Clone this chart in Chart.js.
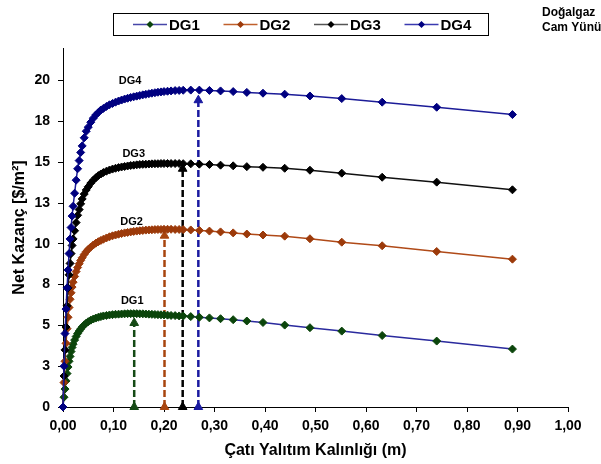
<!DOCTYPE html>
<html>
<head>
<meta charset="utf-8">
<script src="https://cdn.jsdelivr.net/npm/chart.js@4"></script>
<style>
  body { margin: 0; background: #fff; }
</style>
</head>
<body>
<canvas id="gainChart" width="601" height="464"></canvas>
<script>
// data
const seriesNames = ['DG1', 'DG2', 'DG3', 'DG4'];

// roof insulation thickness (m)
const thickness = [
  0, 0.002, 0.004, 0.006, 0.008, 0.010, 0.012, 0.014, 0.016, 0.018,
  0.020, 0.023, 0.026, 0.029, 0.032, 0.035, 0.038, 0.042, 0.046, 0.050,
  0.055, 0.060, 0.065, 0.070, 0.075, 0.080, 0.086, 0.092, 0.098, 0.104,
  0.110, 0.116, 0.122, 0.128, 0.134, 0.140, 0.146, 0.152, 0.158, 0.164,
  0.170, 0.176, 0.182, 0.188, 0.194, 0.200, 0.207, 0.214, 0.222, 0.230,
  0.238, 0.253, 0.270, 0.290, 0.312, 0.337, 0.364, 0.396, 0.439, 0.489,
  0.552, 0.632, 0.740, 0.890
];

// net gain ($/m2)
const dg1 = [
  0, 0.6, 1.1, 1.6, 2.05, 2.45, 2.8, 3.1, 3.4, 3.65,
  3.85, 4.1, 4.32, 4.5, 4.65, 4.78, 4.9, 5.03, 5.14, 5.23,
  5.32, 5.39, 5.45, 5.5, 5.54, 5.58, 5.61, 5.64, 5.66, 5.68,
  5.69, 5.7, 5.71, 5.72, 5.72, 5.72, 5.72, 5.71, 5.71, 5.7,
  5.69, 5.68, 5.67, 5.66, 5.65, 5.64, 5.63, 5.61, 5.6, 5.58,
  5.57, 5.54, 5.5, 5.46, 5.41, 5.35, 5.27, 5.18, 5.02, 4.86,
  4.65, 4.38, 4.04, 3.55
];
const dg2 = [
  0, 1.5, 2.8, 3.9, 4.8, 5.5, 6.1, 6.6, 7.0, 7.35,
  7.65, 8.0, 8.3, 8.55, 8.78, 8.98, 9.15, 9.35, 9.52, 9.66,
  9.8, 9.93, 10.04, 10.13, 10.21, 10.28, 10.36, 10.43, 10.49, 10.54,
  10.59, 10.63, 10.67, 10.7, 10.73, 10.76, 10.78, 10.8, 10.82, 10.84,
  10.85, 10.86, 10.87, 10.88, 10.88, 10.89, 10.89, 10.89, 10.88, 10.88,
  10.87, 10.85, 10.82, 10.78, 10.73, 10.67, 10.6, 10.54, 10.47, 10.31,
  10.1, 9.88, 9.53, 9.06
];
const dg3 = [
  0, 1.9, 3.5, 4.9, 6.2, 7.3, 8.1, 8.8, 9.4, 9.9,
  10.3, 10.8, 11.3, 11.75, 12.1, 12.45, 12.75, 13.05, 13.3, 13.5,
  13.72, 13.9, 14.05, 14.18, 14.28, 14.37, 14.45, 14.52, 14.58, 14.63,
  14.67, 14.71, 14.74, 14.77, 14.8, 14.82, 14.84, 14.86, 14.87, 14.88,
  14.89, 14.9, 14.91, 14.91, 14.92, 14.92, 14.92, 14.92, 14.92, 14.92,
  14.91, 14.9, 14.88, 14.86, 14.82, 14.78, 14.73, 14.69, 14.63, 14.51,
  14.33, 14.08, 13.78, 13.31
];
const dg4 = [
  0, 2.5, 4.5, 6.0, 7.3, 8.4, 9.4, 10.3, 11.0, 11.7,
  12.3, 13.1, 13.9, 14.6, 15.1, 15.6, 16.0, 16.5, 16.9, 17.15,
  17.45, 17.7, 17.9, 18.05, 18.2, 18.3, 18.42, 18.52, 18.6, 18.68,
  18.75, 18.81, 18.87, 18.92, 18.97, 19.01, 19.05, 19.09, 19.13, 19.16,
  19.2, 19.23, 19.26, 19.29, 19.31, 19.33, 19.35, 19.37, 19.39, 19.4,
  19.41, 19.42, 19.42, 19.4, 19.37, 19.33, 19.28, 19.23, 19.17, 19.06,
  18.9, 18.68, 18.37, 17.92
];

// optimum thickness arrows
const optThickness = [0.141, 0.201, 0.237, 0.268];
const arrowTop = [5.15, 10.5, 14.6, 18.8];

const xTickValues = [0, 0.1, 0.2, 0.3, 0.4, 0.5, 0.6, 0.7, 0.8, 0.9, 1.0];
const xTickLabels = ['0,00', '0,10', '0,20', '0,30', '0,40', '0,50', '0,60', '0,70', '0,80', '0,90', '1,00'];
const yTickValues = [0, 2.5, 5, 7.5, 10, 12.5, 15, 17.5, 20];
const yTickLabels = ['0', '3', '5', '8', '10', '13', '15', '18', '20'];

// styles
const FONT = "'Liberation Sans', Arial, sans-serif";
const lineColors = ['#2a2a9e', '#b04a18', '#111111', '#1c1c98'];
const markerColors = ['#0b450b', '#9c3a0a', '#000000', '#000080'];
const arrowColors = ['#154a15', '#a8450f', '#000000', '#1a1aa0'];
const legendLineColors = ['#4646a8', '#c0602c', '#555555', '#3a3ab0'];
const labelPos = [[0.137, 6.5], [0.136, 11.35], [0.14, 15.5], [0.133, 19.95]];

Chart.defaults.font.family = FONT;
Chart.defaults.color = '#000';

const allSeries = [dg1, dg2, dg3, dg4];

const curveSets = allSeries.map((vals, i) => ({
  label: seriesNames[i],
  data: thickness.map((x, j) => ({ x: x, y: vals[j] })),
  borderColor: lineColors[i],
  borderWidth: 1.5,
  pointStyle: 'rectRot',
  pointRadius: 4,
  pointBackgroundColor: markerColors[i],
  pointBorderColor: markerColors[i],
  pointBorderWidth: 1,
  tension: 0,
  clip: false,
  order: 4 - i
}));

const arrowSets = optThickness.map((x, i) => ({
  label: seriesNames[i] + ' opt',
  data: [{ x: x, y: 0 }, { x: x, y: arrowTop[i] }],
  borderColor: arrowColors[i],
  borderWidth: 2.5,
  borderDash: [7, 3],
  pointStyle: 'triangle',
  pointRadius: 5,
  pointBackgroundColor: arrowColors[i],
  pointBorderColor: arrowColors[i],
  pointBorderWidth: 1,
  clip: false,
  order: 10
}));

// legend box, curve labels and corner note
const extras = {
  id: 'extras',
  afterDraw(chart) {
    const c = chart.ctx;
    const xs = chart.scales.x, ys = chart.scales.y;
    c.save();
    c.fillStyle = '#000';
    c.textBaseline = 'middle';
    c.textAlign = 'center';
    c.font = 'bold 11px ' + FONT;
    labelPos.forEach((p, i) => {
      c.fillText(seriesNames[i], xs.getPixelForValue(p[0]), ys.getPixelForValue(p[1]));
    });

    // legend
    c.strokeStyle = '#000';
    c.lineWidth = 1;
    c.strokeRect(113.5, 13.5, 375, 22);
    c.font = 'bold 15px ' + FONT;
    c.textAlign = 'left';
    seriesNames.forEach((name, i) => {
      const x0 = 133 + i * 90.5, y0 = 24.5;
      c.strokeStyle = legendLineColors[i];
      c.lineWidth = 1.5;
      c.beginPath();
      c.moveTo(x0, y0);
      c.lineTo(x0 + 34, y0);
      c.stroke();
      c.fillStyle = markerColors[i];
      c.beginPath();
      c.moveTo(x0 + 17, y0 - 3.5);
      c.lineTo(x0 + 20.5, y0);
      c.lineTo(x0 + 17, y0 + 3.5);
      c.lineTo(x0 + 13.5, y0);
      c.closePath();
      c.fill();
      c.fillStyle = '#000';
      c.fillText(name, x0 + 36, y0 + 1);
    });

    c.font = 'bold 12px ' + FONT;
    c.fillText('Doğalgaz', 542, 13);
    c.fillText('Cam Yünü', 542, 28);
    c.restore();
  }
};

new Chart(document.getElementById('gainChart'), {
  type: 'line',
  data: { datasets: arrowSets.concat(curveSets) },
  options: {
    responsive: false,
    animation: false,
    events: [],
    layout: { padding: { top: 48, right: 33, left: 0, bottom: 0 } },
    plugins: { legend: { display: false }, tooltip: { enabled: false } },
    scales: {
      x: {
        type: 'linear',
        min: 0,
        max: 1,
        afterBuildTicks: s => { s.ticks = xTickValues.map(v => ({ value: v })); },
        afterFit: s => { s.height = 57; },
        ticks: {
          autoSkip: false,
          maxRotation: 0,
          padding: 6,
          font: { size: 14, weight: 'bold' },
          callback: (v, i) => xTickLabels[i]
        },
        grid: { drawOnChartArea: false, tickLength: 5, color: '#000' },
        border: { color: '#000', width: 1 },
        title: {
          display: true,
          text: 'Çatı Yalıtım Kalınlığı (m)',
          font: { size: 16, weight: 'bold' },
          padding: { top: 4, bottom: 4 }
        }
      },
      y: {
        min: 0,
        max: 22,
        afterBuildTicks: s => { s.ticks = yTickValues.map(v => ({ value: v })); },
        afterFit: s => { s.width = 63; },
        ticks: {
          autoSkip: false,
          padding: 8,
          font: { size: 14, weight: 'bold' },
          callback: (v, i) => yTickLabels[i]
        },
        grid: { drawOnChartArea: false, tickLength: 5, color: '#000' },
        border: { color: '#000', width: 1 },
        title: {
          display: true,
          text: 'Net Kazanç [$/m²]',
          font: { size: 16, weight: 'bold' },
          padding: { top: 10, bottom: 0 }
        }
      }
    }
  },
  plugins: [extras]
});
</script>
</body>
</html>
